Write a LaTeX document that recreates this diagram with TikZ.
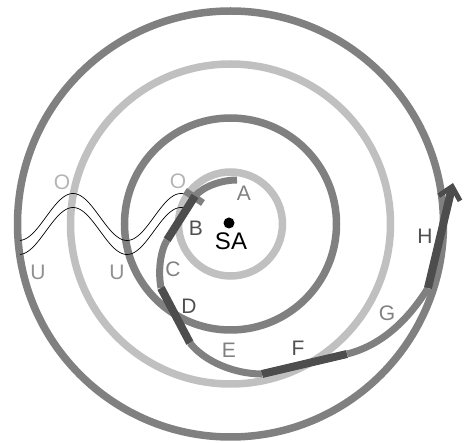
\documentclass[tikz,border=0pt]{standalone}
\usepackage{fontspec}
\setmainfont{Liberation Sans}
\definecolor{ringlight}{RGB}{192,192,192}
\definecolor{ringmid}{RGB}{128,128,128}
\definecolor{pathdark}{RGB}{77,77,77}
\definecolor{labdark}{RGB}{80,80,80}
\definecolor{laboben}{RGB}{180,180,180}
\definecolor{labunten}{RGB}{144,144,144}
\usetikzlibrary{arrows.meta}

\begin{document}
\begin{tikzpicture}[x=1pt,y=-1pt,
  lab/.style={inner sep=0pt,font=\fontsize{21}{21}\selectfont},
  midseg/.style={ringmid,line width=7pt},
  darkseg/.style={pathdark,line width=8pt},
  wave/.style={black,line width=0.7pt}]
\useasboundingbox (0,0) rectangle (464,443);
% rings round SA
\foreach \r/\c in {52/ringlight,106/ringmid,160/ringlight,213/ringmid}{
  \draw[\c,line width=7.5pt] (230.5,224) circle[radius=\r];}
% wave band
\draw[wave] plot[domain=20:190,samples=90,smooth] (\x,{217-23.5*cos((\x-73)*3.3333)});
\draw[wave] plot[domain=20:186,samples=90,smooth] (\x,{231-23.5*cos((\x-73)*3.3333)});
% path A..H
\coordinate (pA) at (237,180);
\coordinate (pB) at (195,196);
\coordinate (pC) at (167,240);
\coordinate (pD) at (161,288);
\coordinate (pE) at (190,343);
\coordinate (pF) at (262,374);
\coordinate (pG) at (347,354);
\coordinate (pH) at (428,288);
\coordinate (tip) at (453,183);
\draw[midseg] (pA) .. controls (222,180) and (204,186) .. (pB);
\draw[midseg] (185,191) -- (203,203);
\draw[darkseg] (pB) -- (pC);
\draw[midseg] (pC) .. controls (160,252) and (158,272) .. (pD);
\draw[darkseg] (pD) -- (pE);
\draw[midseg] (pE) .. controls (205,362) and (235,374) .. (pF);
\draw[darkseg] (pF) -- (pG);
\draw[midseg] (pG) .. controls (372,348) and (402,330) .. (pH);
\draw[darkseg,-{Straight Barb[length=12pt,width=22pt,line width=5pt]}] (pH) -- (tip);
% centre
\fill[black] (229,223) circle[radius=5.5];
\node[lab,font=\fontsize{24}{24}\selectfont] (sa) at (231,241) {SA};
% labels
\node[lab,text=ringmid] (labA) at (244,193) {A};
\node[lab,text=labdark] (labB) at (196,228) {B};
\node[lab,text=ringmid] (labC) at (173,269) {C};
\node[lab,text=labdark] (labD) at (189,306) {D};
\node[lab,text=ringmid] (labE) at (229,350) {E};
\node[lab,text=labdark] (labF) at (298,348) {F};
\node[lab,text=ringmid] (labG) at (387,313) {G};
\node[lab,text=labdark] (labH) at (425,236) {H};
\node[lab,text=laboben] (o1) at (62,182) {O};
\node[lab,text=laboben] (o2) at (178,181) {O};
\node[lab,text=labunten] (u1) at (38,272) {U};
\node[lab,text=labunten] (u2) at (117,272) {U};
\end{tikzpicture}
\end{document}
